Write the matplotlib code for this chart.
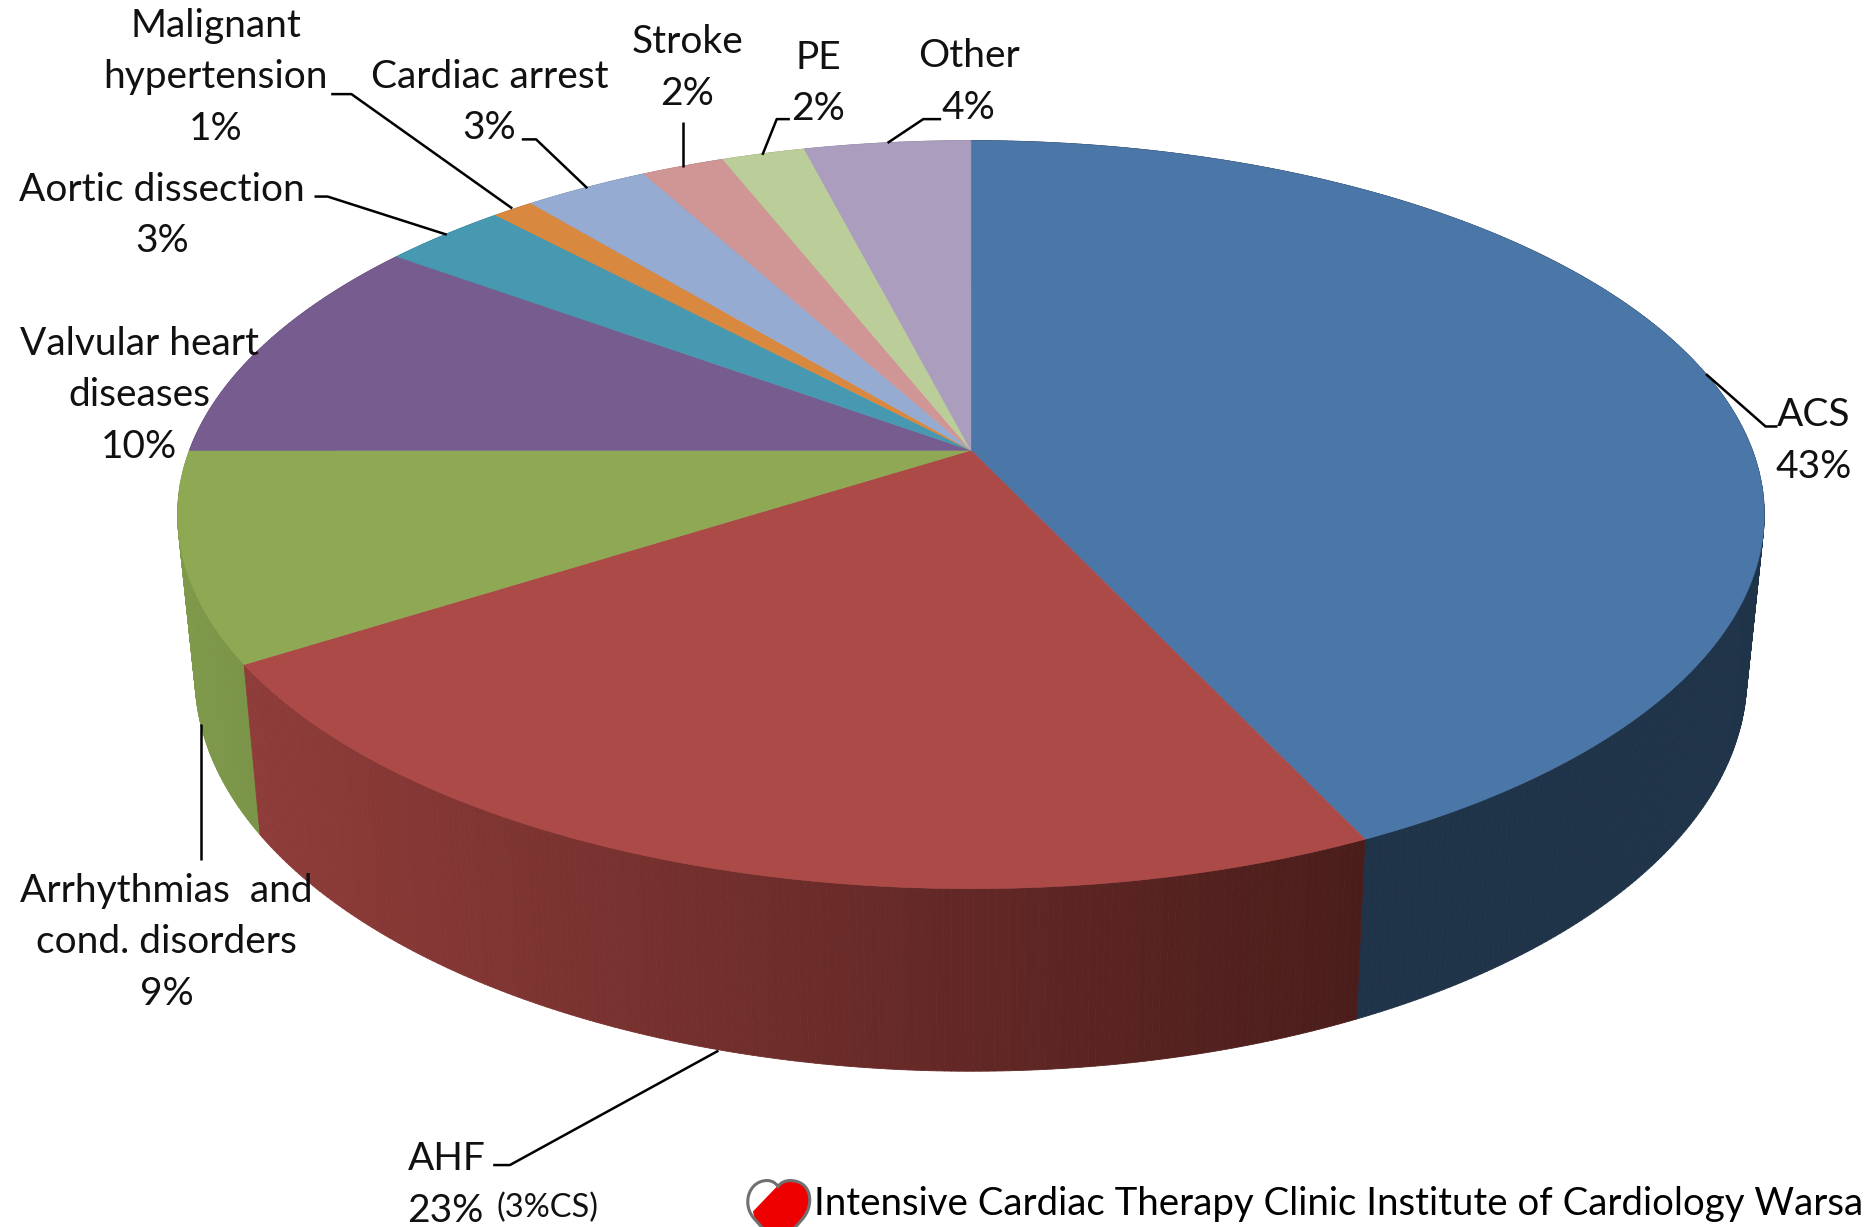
import numpy as np
import matplotlib
matplotlib.use('Agg')
import matplotlib.pyplot as plt
from matplotlib.collections import PolyCollection
from matplotlib.patches import PathPatch, Polygon
from matplotlib.path import Path

plt.rcParams['font.family'] = ['Lato', 'DejaVu Sans']

categories = ['ACS', 'AHF', 'Arrhythmias and cond. disorders', 'Valvular heart diseases',
              'Aortic dissection', 'Malignant hypertension', 'Cardiac arrest', 'Stroke', 'PE', 'Other']
values = [43, 23, 9, 10, 3, 1, 3, 2, 2, 4]
top_colors = ['#4a76a8', '#ac4a47', '#8ea853', '#775c90', '#4699b0', '#d9883f',
              '#95abd2', '#d09695', '#bbce9a', '#aa9dbe']
side_start = ['#1f3349', '#8f3c39', '#7f9a4b', '#5e4872', '#367a8c', '#ad6c32',
              '#7789a8', '#a67877', '#95a57b', '#887d98']
side_end = ['#1f3349', '#4a1d1b', '#7a9448', '#5e4872', '#367a8c', '#ad6c32',
            '#7789a8', '#a67877', '#95a57b', '#887d98']

# perspective of the disc, in units of the shrunk reference picture
cx, cy = 815, 378
a, b, k = 656, 304.7, 0.172
drop, shrink_x, shrink_y = 133, 0.978, 1.055


def project(frac, lower=False):
    t = 2 * np.pi * np.asarray(frac)
    xs = np.sin(t)
    ys = np.cos(t)
    w = 1 + k * ys
    u = a * xs / w
    v = b * ys / w
    if lower:
        return cx + shrink_x * u, cy - shrink_y * v + drop
    return cx + u, cy - v


fig = plt.figure(figsize=(18.68, 12.27), dpi=100)
ax = fig.add_axes([0, 0, 1, 1])
ax.set_xlim(0, 1568)
ax.set_ylim(1030, 0)
ax.axis('off')

edges = np.cumsum([0] + values) / sum(values)

# side wall, back segments first so they stay hidden
quads = []
cols = []
for i in range(len(values)):
    fr = np.linspace(edges[i], edges[i + 1], int(values[i] * 8) + 2)
    x1, y1 = project(fr)
    x2, y2 = project(fr, lower=True)
    c0 = np.array(matplotlib.colors.to_rgb(side_start[i]))
    c1 = np.array(matplotlib.colors.to_rgb(side_end[i]))
    span = max(x1.max() - x1.min(), 1)
    for j in range(len(fr) - 1):
        quads.append([(x1[j], y1[j]), (x1[j + 1], y1[j + 1]), (x2[j + 1], y2[j + 1]), (x2[j], y2[j])])
        f = (x1.max() - x1[j]) / span
        cols.append(c1 + (c0 - c1) * f)
order = np.argsort([q[3][1] + q[2][1] for q in quads])
quads = [quads[n] for n in order]
cols = [cols[n] for n in order]
ax.add_collection(PolyCollection(quads, facecolors=cols, edgecolors=cols, linewidths=0.6, zorder=2))

# top of the disc
for i in range(len(values)):
    fr = np.linspace(edges[i], edges[i + 1], int(values[i] * 8) + 2)
    x1, y1 = project(fr)
    pts = [(cx, cy)] + list(zip(x1, y1))
    ax.add_patch(Polygon(pts, closed=True, facecolor=top_colors[i], edgecolor=top_colors[i], lw=0.4, zorder=3))

# labels
txt = dict(ha='center', va='center', fontsize=28, color='#111111', linespacing=1.54, zorder=5)
ax.text(181, 65, 'Malignant\nhypertension\n1%', **txt)
ax.text(411, 86, 'Cardiac arrest\n3%', **txt)
ax.text(577, 57, 'Stroke\n2%', **txt)
ax.text(687, 70, 'PE\n2%', **txt)
ax.text(813, 69, 'Other\n4%', **txt)
ax.text(136, 181, 'Aortic dissection\n3%', **txt)
ax.text(117, 332, 'Valvular heart\ndiseases\n10%', **txt)
ax.text(140, 791, 'Arrhythmias  and\ncond. disorders\n9%', **txt)
ax.text(1522, 370, 'ACS\n43%', **txt)
ax.text(342, 995, 'AHF\n23%', ha='left', va='center', fontsize=28, color='#111111', linespacing=1.54)
ax.text(417, 1014, '(3%CS)', ha='left', va='center', fontsize=23.5, color='#111111')

# leader lines
leaders = [
    [(1432, 314), (1482, 358), (1492, 358)],
    [(169, 608), (169, 722)],
    [(603, 882), (428, 978), (414, 978)],
    [(264, 165), (275, 165), (375, 197)],
    [(278, 79), (295, 79), (430, 175)],
    [(438, 117), (450, 117), (493, 158)],
    [(573, 102), (573, 140)],
    [(663, 100), (652, 100), (640, 130)],
    [(790, 100), (775, 100), (745, 120)],
]
for line in leaders:
    xs, ys = zip(*line)
    ax.plot(xs, ys, color='black', lw=1.8, zorder=4, solid_capstyle='butt')

# small heart logo, runs off the bottom edge
heart = Path(
    [(653.5, 1046), (634, 1024), (622, 1012), (628, 991), (644, 991), (648, 991), (651, 993), (653, 996),
     (655, 993), (659, 991), (663, 991), (682, 991), (684, 1012), (673, 1024), (653.5, 1046)],
    [Path.MOVETO, Path.LINETO, Path.CURVE4, Path.CURVE4, Path.CURVE4, Path.CURVE4, Path.CURVE4, Path.CURVE4,
     Path.CURVE4, Path.CURVE4, Path.CURVE4, Path.CURVE4, Path.CURVE4, Path.CURVE4, Path.CLOSEPOLY])
ax.add_patch(PathPatch(heart, facecolor='white', edgecolor='none', zorder=5))
red = Polygon([(632, 1017), (656, 992), (690, 985), (690, 1050), (640, 1050)], closed=True,
              facecolor='#ee0000', edgecolor='none', zorder=6)
ax.add_patch(red)
red.set_clip_path(PathPatch(heart, transform=ax.transData))
ax.add_patch(PathPatch(heart, facecolor='none', edgecolor='#707070', lw=2.2, zorder=7))

ax.text(683, 1011, 'Intensive Cardiac Therapy Clinic Institute of Cardiology Warsa', ha='left', va='center',
        fontsize=27.6, color='black', zorder=8)

fig.savefig('out.png', dpi=100, facecolor='white')
